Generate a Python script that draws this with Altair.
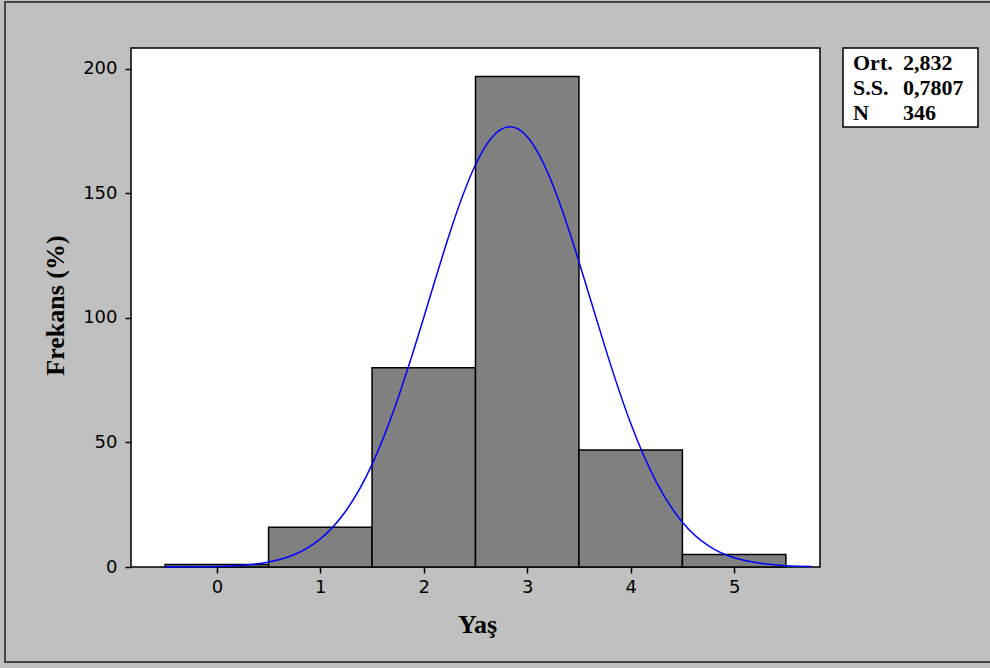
import altair as alt
import pandas as pd

# Histogram data (Yaş bins and frequencies)
ages = [0, 1, 2, 3, 4, 5]
counts = [1, 16, 80, 197, 47, 5]

# Fitted normal curve
curve_x = [-0.5, -0.25, 0.0, 0.25, 0.5, 0.75, 1.0, 1.25, 1.5, 1.75, 2.0, 2.25, 2.5,
           2.75, 3.0, 3.25, 3.5, 3.75, 4.0, 4.25, 4.5, 4.75, 5.0, 5.25, 5.5, 5.75]
curve_y = [0.0, 0.1, 0.2, 0.7, 2.0, 5.0, 11.3, 22.7, 41.2, 67.7, 100.2, 133.9, 161.5,
           175.8, 172.8, 153.2, 122.6, 88.6, 57.7, 34.0, 18.0, 8.6, 3.7, 1.5, 0.5, 0.2]

# Stat box
stat_labels = ["Ort.", "S.S.", "N"]
stat_values = ["2,832", "0,7807", "346"]

x_ticks = [0, 1, 2, 3, 4, 5]
y_ticks = [0, 50, 100, 150, 200]

bars = pd.DataFrame({"age": ages, "count": counts})
bars["start"] = bars["age"] - 0.5
bars["end"] = bars["age"] + 0.5
curve = pd.DataFrame({"x": curve_x, "y": curve_y})

W, H = 689, 519

xscale = alt.Scale(domain=[-0.83, 5.83], nice=False, zero=False)
yscale = alt.Scale(domain=[0, 208.4], nice=False, zero=False)

TICK_FONT = "DejaVu Sans"
TITLE_FONT = "Liberation Serif"

x_axis = alt.Axis(values=x_ticks, format="d", title="Yaş", grid=False, domain=False,
                  tickSize=6, tickColor="black", tickWidth=1.5,
                  labelFont=TICK_FONT, labelFontSize=18, labelColor="black", labelPadding=5,
                  titleFont=TITLE_FONT, titleFontSize=26, titleFontWeight="bold",
                  titleColor="black", titleX=346, titleY=65, titleBaseline="alphabetic")
y_axis = alt.Axis(values=y_ticks, format="d", title="Frekans (%)", grid=False, domain=False,
                  tickSize=6, tickColor="black", tickWidth=1.5,
                  labelFont=TICK_FONT, labelFontSize=18, labelColor="black", labelPadding=8,
                  titleFont=TITLE_FONT, titleFontSize=26, titleFontWeight="bold",
                  titleColor="black", titleX=-68, titleY=257, titleAngle=270,
                  titleBaseline="alphabetic", titleAlign="center")

bar_layer = alt.Chart(bars).mark_rect(fill="#808080", stroke="black", strokeWidth=1.5).encode(
    x=alt.X("start:Q", scale=xscale, axis=x_axis),
    x2="end:Q",
    y=alt.Y("count:Q", scale=yscale, axis=y_axis),
    y2=alt.datum(0),
)

curve_layer = alt.Chart(curve).mark_line(color="#0000ff", strokeWidth=1.5,
                                         interpolate="natural").encode(
    x=alt.X("x:Q", scale=xscale),
    y=alt.Y("y:Q", scale=yscale),
)

# Outer frame of the figure
frame = alt.Chart(pd.DataFrame({"a": [0]})).mark_rect(
    filled=False, stroke="#454545", strokeWidth=2).encode(
    x=alt.value(-126), x2=alt.value(880), y=alt.value(-46), y2=alt.value(614))

# Stat box
box = alt.Chart(pd.DataFrame({"a": [0]})).mark_rect(
    fill="white", stroke="black", strokeWidth=1.5).encode(
    x=alt.value(712), x2=alt.value(847), y=alt.value(0), y2=alt.value(79))

stat_layers = []
for i, (lab, val) in enumerate(zip(stat_labels, stat_values)):
    yy = 22 + i * 25
    for txt, xx in ((lab, 722), (val, 772)):
        stat_layers.append(
            alt.Chart(pd.DataFrame({"t": [txt]})).mark_text(
                align="left", baseline="alphabetic", font=TITLE_FONT, fontSize=22,
                fontWeight="bold", color="black").encode(
                x=alt.value(xx), y=alt.value(yy), text="t:N")
        )

chart = alt.layer(frame, bar_layer, curve_layer, box, *stat_layers).properties(
    width=W, height=H,
    autosize=alt.AutoSizeParams(type="none"),
    padding={"left": 131, "top": 48, "right": 990 - 131 - W, "bottom": 668 - 48 - H},
).configure(background="#c0c0c0").configure_view(
    fill="white", stroke="black", strokeWidth=1.5
)

chart.save("out.html", embed_options={"renderer": "svg", "actions": False})
